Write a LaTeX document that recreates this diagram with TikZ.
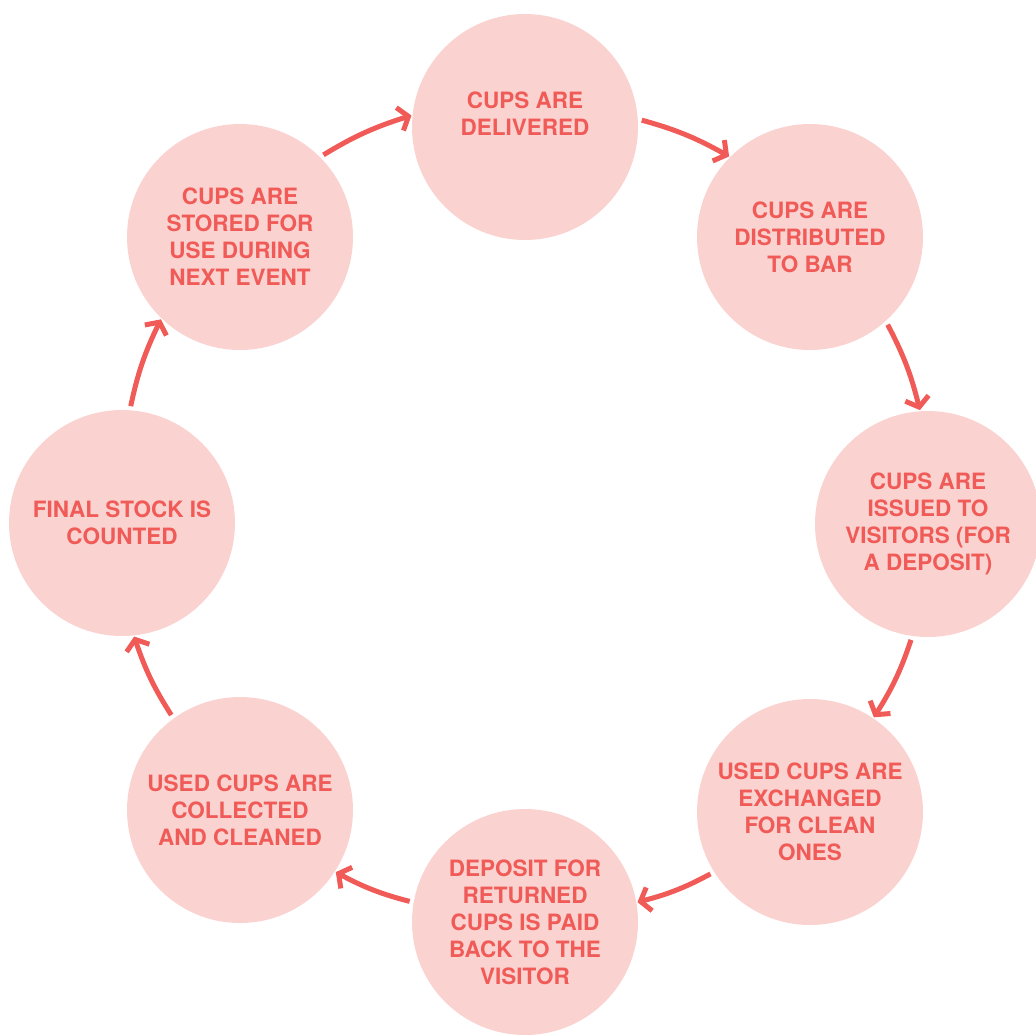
\documentclass[tikz,border=0pt]{standalone}
\usepackage{fontspec}
\setmainfont{TeX Gyre Heros}
\usepackage{xcolor}
\usetikzlibrary{arrows.meta}

\definecolor{cuppink}{HTML}{FAD2D0}
\definecolor{cupred}{HTML}{F05A57}

\begin{document}
\begin{tikzpicture}[x=1pt,y=1pt,
    cupstep/.style={circle, fill=cuppink, minimum size=226pt, inner sep=0pt,
      text=cupred, align=center, font=\bfseries\fontsize{22.5}{27}\selectfont},
    cyclearrow/.style={draw=cupred, line width=5pt,
      -{Straight Barb[length=9pt,width=24pt]}, bend left=7,
      shorten <=4pt, shorten >=1pt}]
            \useasboundingbox (0,0) rectangle (1036,-1034);

            % the eight steps of the cup cycle
            \node[cupstep] (delivered)   at (525,-127) {CUPS ARE\\DELIVERED\\\mbox{}};
            \node[cupstep] (distributed) at (810,-237) {CUPS ARE\\DISTRIBUTED\\TO BAR};
            \node[cupstep] (issued)      at (928,-524) {CUPS ARE\\ISSUED TO\\VISITORS (FOR\\A DEPOSIT)};
            \node[cupstep] (exchanged)   at (810,-812) {USED CUPS ARE\\EXCHANGED\\FOR CLEAN\\ONES};
            \node[cupstep] (deposit)     at (525,-922) {DEPOSIT FOR\\RETURNED\\CUPS IS PAID\\BACK TO THE\\VISITOR};
            \node[cupstep] (collected)   at (240,-810) {USED CUPS ARE\\COLLECTED\\AND CLEANED};
            \node[cupstep] (final)       at (122,-523) {FINAL STOCK IS\\COUNTED};
            \node[cupstep] (stored)      at (240,-237) {CUPS ARE\\STORED FOR\\USE DURING\\NEXT EVENT};

            % arrows, clockwise
            \draw[cyclearrow] (delivered.4) to (distributed.135);
            \draw[cyclearrow] (distributed.-48) to (issued.94);
            \draw[cyclearrow] (issued.-98) to (exchanged.56);
            \draw[cyclearrow] (exchanged.-148) to (deposit.10);
            \draw[cyclearrow] (deposit.170) to (collected.-33);
            \draw[cyclearrow] (collected.126) to (final.-84);
            \draw[cyclearrow] (final.86) to (stored.-134);
            \draw[cyclearrow] (stored.45) to (delivered.174);
        \end{tikzpicture}
\end{document}
